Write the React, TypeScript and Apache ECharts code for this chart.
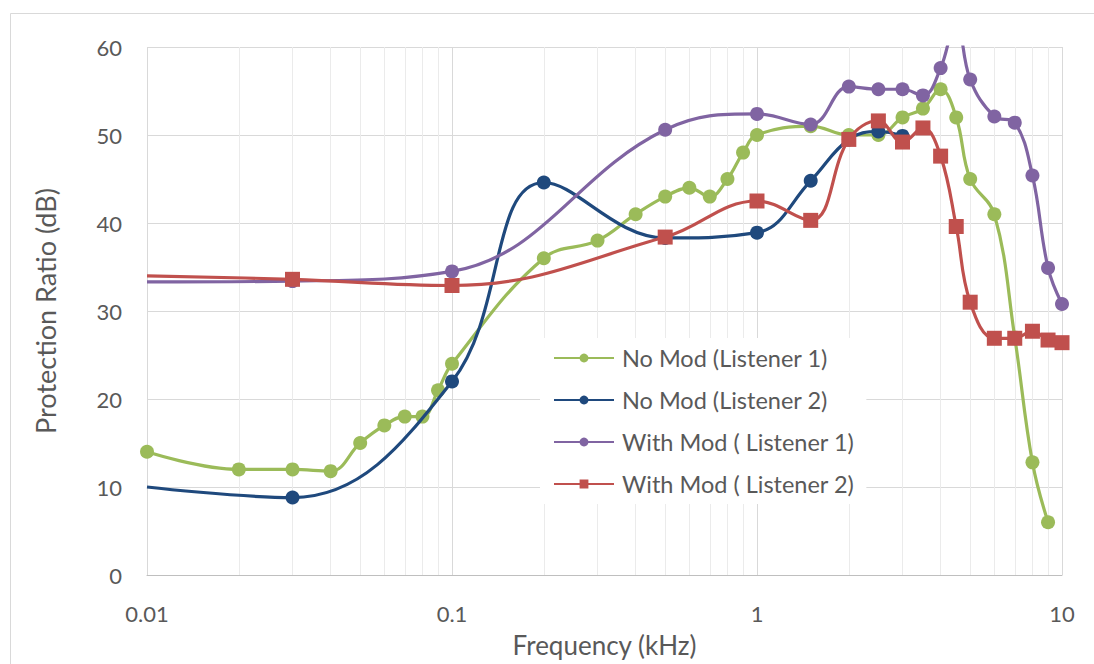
import React, { useEffect, useRef } from "react";
import * as echarts from "echarts";

const seriesNames = [
  "No Mod (Listener 1)",
  "No Mod (Listener 2)",
  "With Mod ( Listener 1)",
  "With Mod ( Listener 2)",
];

const noMod1Freq = [0.01, 0.02, 0.03, 0.04, 0.05, 0.06, 0.07, 0.08, 0.09, 0.1, 0.2, 0.3, 0.4, 0.5, 0.6, 0.7, 0.8, 0.9, 1, 1.5, 2, 2.5, 3, 3.5, 4, 4.5, 5, 6, 7, 8, 9];
const noMod1Val = [14, 12, 12, 11.8, 15, 17, 18, 18, 21, 24, 36, 38, 41, 43, 44, 43, 45, 48, 50, 51, 50, 50, 52, 53, 55.2, 52, 45, 41, 27, 12.8, 6];

const noMod2Freq = [0.01, 0.03, 0.1, 0.2, 0.5, 1, 1.5, 2, 2.5, 3];
const noMod2Val = [10, 8.8, 22, 44.6, 38.3, 38.9, 44.8, 49.5, 50.4, 49.9];

const withMod1Freq = [0.01, 0.03, 0.1, 0.5, 1, 1.5, 2, 2.5, 3, 3.5, 4, 4.5, 5, 6, 7, 8, 9, 10];
const withMod1Val = [33.3, 33.4, 34.5, 50.6, 52.4, 51.2, 55.5, 55.2, 55.2, 54.5, 57.6, 63, 56.3, 52.1, 51.4, 45.4, 34.9, 30.8];

const withMod2Freq = [0.01, 0.03, 0.1, 0.5, 1, 1.5, 2, 2.5, 3, 3.5, 4, 4.5, 5, 6, 7, 8, 9, 10];
const withMod2Val = [34, 33.6, 32.9, 38.4, 42.5, 40.3, 49.5, 51.6, 49.2, 50.8, 47.6, 39.6, 31, 26.9, 26.9, 27.7, 26.7, 26.4];

// first points drawn without a marker in the reference
const noMarkerFirst = [false, true, true, true];

const minorGridFreqs = [
  0.02, 0.03, 0.04, 0.05, 0.06, 0.07, 0.08, 0.09,
  0.2, 0.3, 0.4, 0.5, 0.6, 0.7, 0.8, 0.9,
  2, 3, 4, 5, 6, 7, 8, 9,
];

const xTickLabels = ["0.01", "0.1", "1", "10"];
const yMin = 0;
const yMax = 60;
const yInterval = 10;

const colors = ["#9BBB59", "#1F497D", "#8064A2", "#C0504D"];
const symbols = ["circle", "circle", "circle", "rect"];

const FONT = "Lato, 'Open Sans', sans-serif";

export default function App() {
  const ref = useRef<HTMLDivElement>(null);
  useEffect(() => {
    if (!ref.current) return;
    const chart = echarts.init(ref.current, null, { renderer: "svg" });
    const all = [
      [noMod1Freq, noMod1Val],
      [noMod2Freq, noMod2Val],
      [withMod1Freq, withMod1Val],
      [withMod2Freq, withMod2Val],
    ];
    const series: any[] = all.map(([fx, fy], i) => ({
      name: seriesNames[i],
      type: "line",
      smooth: 0.4,
      symbol: symbols[i],
      symbolSize: symbols[i] === "rect" ? 15 : 14,
      showAllSymbol: true,
      lineStyle: { color: colors[i], width: 3.2 },
      itemStyle: { color: colors[i] },
      z: 3 + i,
      data: fx.map((x, k) =>
        k === 0 && noMarkerFirst[i]
          ? { value: [x, fy[k]], symbol: "none" }
          : { value: [x, fy[k]] }
      ),
    }));
    series.unshift({
      name: "minor-grid",
      type: "line",
      data: [[0.01, 0]],
      symbol: "none",
      lineStyle: { opacity: 0 },
      silent: true,
      z: 1,
      markLine: {
        silent: true,
        z: 1,
        symbol: ["none", "none"],
        label: { show: false },
        lineStyle: { color: "#EBEBEB", type: "solid", width: 1 },
        data: minorGridFreqs.map((f) => ({ xAxis: f })),
      },
    });
    chart.setOption({
      animation: false,
      backgroundColor: "#ffffff",
      textStyle: { fontFamily: FONT },
      graphic: [
        {
          type: "rect",
          shape: { x: 10.5, y: 13.5, width: 1300, height: 900 },
          style: { fill: "none", stroke: "#D9D9D9", lineWidth: 1 },
          silent: true,
        },
      ],
      grid: {
        left: 147,
        right: 32,
        top: 47,
        bottom: 89,
        containLabel: false,
        outerBoundsMode: "none",
      },
      legend: {
        data: seriesNames,
        orient: "vertical",
        left: 540,
        top: 338,
        backgroundColor: "#ffffff",
        padding: [8, 12, 8, 13],
        itemWidth: 60,
        itemHeight: 11,
        itemGap: 18,
        textStyle: { color: "#595959", fontSize: 23.5, fontFamily: FONT, padding: [0, 0, 0, 3] },
      },
      xAxis: {
        type: "log",
        logBase: 10,
        min: 0.01,
        max: 10,
        name: "Frequency (kHz)",
        nameLocation: "middle",
        nameGap: 57,
        nameTextStyle: { color: "#595959", fontSize: 26, fontFamily: FONT },
        axisLine: { show: true, lineStyle: { color: "#BFBFBF", width: 1 } },
        axisTick: { show: false },
        axisLabel: {
          color: "#595959",
          fontSize: 22,
          margin: 27,
          formatter: (_v: number, idx: number) => xTickLabels[idx] ?? "",
        },
        splitLine: { show: true, lineStyle: { color: "#D9D9D9", width: 1 } },
      },
      yAxis: {
        type: "value",
        min: yMin,
        max: yMax,
        interval: yInterval,
        name: "Protection Ratio (dB)",
        nameLocation: "middle",
        nameGap: 88,
        nameRotate: 90,
        nameTextStyle: { color: "#595959", fontSize: 27, fontFamily: FONT },
        axisLine: { show: false },
        axisTick: { show: false },
        axisLabel: { color: "#595959", fontSize: 22, margin: 25 },
        splitLine: { show: true, lineStyle: { color: "#D9D9D9", width: 1 } },
      },
      series,
    });
    return () => chart.dispose();
  }, []);
  return (
    <div
      ref={ref}
      style={{ position: "absolute", left: 0, top: 0, width: 1094, height: 664, background: "#fff" }}
    />
  );
}
